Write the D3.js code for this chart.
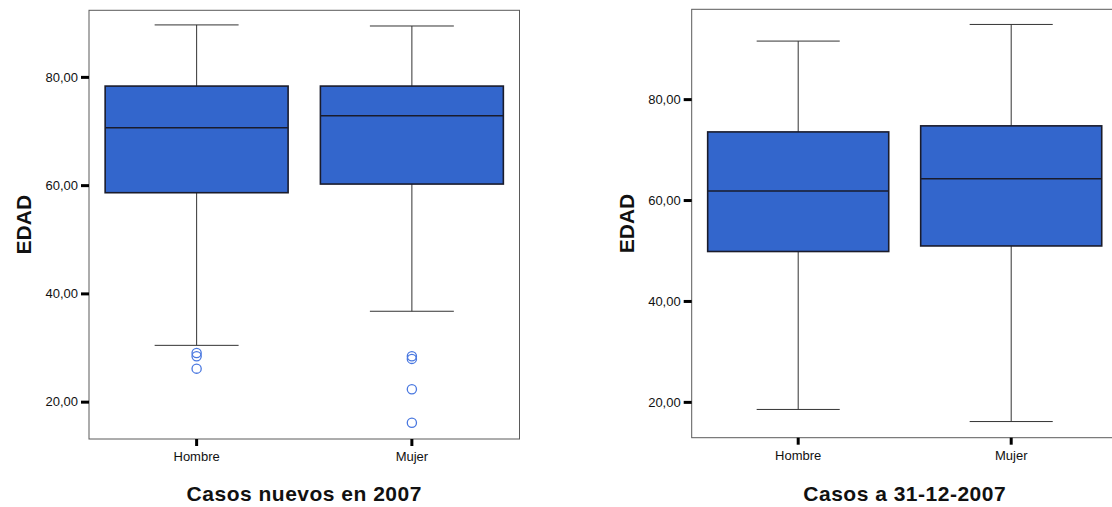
<!DOCTYPE html>
<html>
<head>
<meta charset="utf-8">
<script src="https://cdn.jsdelivr.net/npm/d3@7"></script>
<style>
  body { margin: 0; background: #fff; }
  text { font-family: "Liberation Sans", Arial, sans-serif; fill: #111; }
</style>
</head>
<body>
<div id="viz"></div>
<script>
/* ===== DATA ===== */
const categories = ['Hombre', 'Mujer'];

// panel 1: Casos nuevos en 2007
const nuevosLow = [30.4, 36.7];
const nuevosQ1 = [58.6, 60.2];
const nuevosMedian = [70.6, 72.8];
const nuevosQ3 = [78.3, 78.3];
const nuevosHigh = [89.6, 89.4];
const nuevosOutliers = [[29.0, 28.4, 26.1], [28.4, 27.9, 22.3, 16.1]];

// panel 2: Casos a 31-12-2007
const casosLow = [18.5, 16.1];
const casosQ1 = [49.8, 50.9];
const casosMedian = [61.8, 64.2];
const casosQ3 = [73.5, 74.7];
const casosHigh = [91.5, 94.8];
const casosOutliers = [[], []];

const yTicks = [20, 40, 60, 80];

/* ===== DRAW ===== */
const width = 1112;
const height = 507;

const svg = d3.select('#viz')
  .append('svg')
  .attr('width', width)
  .attr('height', height)

const fmt = d => d3.format('.2f')(d).replace('.', ',');

function buildRows(low, q1, med, q3, high, outl) {
  return categories.map((c, i) => ({
    cat: c, low: low[i], q1: q1[i], median: med[i], q3: q3[i], high: high[i], outliers: outl[i]
  }));
}

function drawPanel(opt) {
  const g = svg.append('g')
    .attr('transform', `translate(${opt.left}, ${opt.top})`)

  const xScale = d3.scaleBand()
    .domain(categories)
    .range([0, opt.w])

  const yScale = d3.scaleLinear()
    .domain(opt.yDomain)
    .range([opt.h, 0])

  const bw = xScale.bandwidth();
  const boxW = bw * 0.85;
  const capW = bw * 0.39;
  const cx = d => xScale(d.cat) + bw / 2;

  // frame
  g.append('rect')
    .attr('x', 0).attr('y', 0)
    .attr('width', opt.w).attr('height', opt.h)
    .attr('fill', 'none')
    .attr('stroke', '#5a5a5a')
    .attr('stroke-width', 1)

  const boxes = g.selectAll('.bx')
    .data(opt.rows)
    .enter()
    .append('g')
    .attr('class', 'bx')

  // whisker stem
  boxes.append('line')
    .attr('x1', cx).attr('x2', cx)
    .attr('y1', d => yScale(d.low))
    .attr('y2', d => yScale(d.high))
    .attr('stroke', '#333')
    .attr('stroke-width', 1)

  // caps
  boxes.selectAll('.cap')
    .data(d => [d.low, d.high].map(v => ({ v: v, d: d })))
    .enter()
    .append('line')
    .attr('x1', e => cx(e.d) - capW / 2)
    .attr('x2', e => cx(e.d) + capW / 2)
    .attr('y1', e => yScale(e.v))
    .attr('y2', e => yScale(e.v))
    .attr('stroke', '#333')
    .attr('stroke-width', 1)

  boxes.append('rect')
    .attr('x', d => cx(d) - boxW / 2)
    .attr('y', d => yScale(d.q3))
    .attr('width', boxW)
    .attr('height', d => yScale(d.q1) - yScale(d.q3))
    .attr('fill', '#3366cc')
    .attr('stroke', '#1a1c2c')
    .attr('stroke-width', 1.6)

  boxes.append('line')
    .attr('x1', d => cx(d) - boxW / 2)
    .attr('x2', d => cx(d) + boxW / 2)
    .attr('y1', d => yScale(d.median))
    .attr('y2', d => yScale(d.median))
    .attr('stroke', '#1a1c2c')
    .attr('stroke-width', 1.5)

  boxes.selectAll('.out')
    .data(d => d.outliers.map(v => ({ v: v, d: d })))
    .enter()
    .append('circle')
    .attr('cx', e => cx(e.d))
    .attr('cy', e => yScale(e.v))
    .attr('r', 4.6)
    .attr('fill', 'none')
    .attr('stroke', '#4a78e0')
    .attr('stroke-width', 1.3)

  // axes
  const yAxis = d3.axisLeft(yScale)
    .tickValues(yTicks)
    .tickSize(8)
    .tickPadding(3)
    .tickFormat(fmt)
  const ya = g.append('g').call(yAxis)
  ya.select('.domain').remove()
  ya.selectAll('line').attr('stroke', '#000').attr('stroke-width', 3)
  ya.selectAll('text').attr('font-size', 13).attr('font-family', null).attr('fill', '#111')

  const xAxis = d3.axisBottom(xScale)
    .tickSize(7)
    .tickPadding(6)
  const xa = g.append('g')
    .attr('transform', `translate(0, ${opt.h})`)
    .call(xAxis)
  xa.select('.domain').remove()
  xa.selectAll('line').attr('stroke', '#000').attr('stroke-width', 3)
  xa.selectAll('text').attr('font-size', 13).attr('font-family', null).attr('fill', '#111')

  // y title
  g.append('text')
    .attr('transform', `translate(-58, ${opt.h / 2}) rotate(-90)`)
    .attr('text-anchor', 'middle')
    .attr('font-size', 21)
    .attr('font-weight', 'bold')
    .text('EDAD')

  // x title
  g.append('text')
    .attr('x', opt.w / 2)
    .attr('y', 501 - opt.top)
    .attr('text-anchor', 'middle')
    .attr('font-size', 21)
    .attr('font-weight', 'bold')
    .attr('letter-spacing', 0.5)
    .text(opt.title)
}

drawPanel({
  left: 89, top: 10.3, w: 430.5, h: 428.7,
  yDomain: [13.1, 92.3],
  rows: buildRows(nuevosLow, nuevosQ1, nuevosMedian, nuevosQ3, nuevosHigh, nuevosOutliers),
  title: 'Casos nuevos en 2007'
});

drawPanel({
  left: 691.7, top: 9.3, w: 426, h: 428.4,
  yDomain: [12.9, 97.8],
  rows: buildRows(casosLow, casosQ1, casosMedian, casosQ3, casosHigh, casosOutliers),
  title: 'Casos a 31-12-2007'
});
</script>
</body>
</html>
